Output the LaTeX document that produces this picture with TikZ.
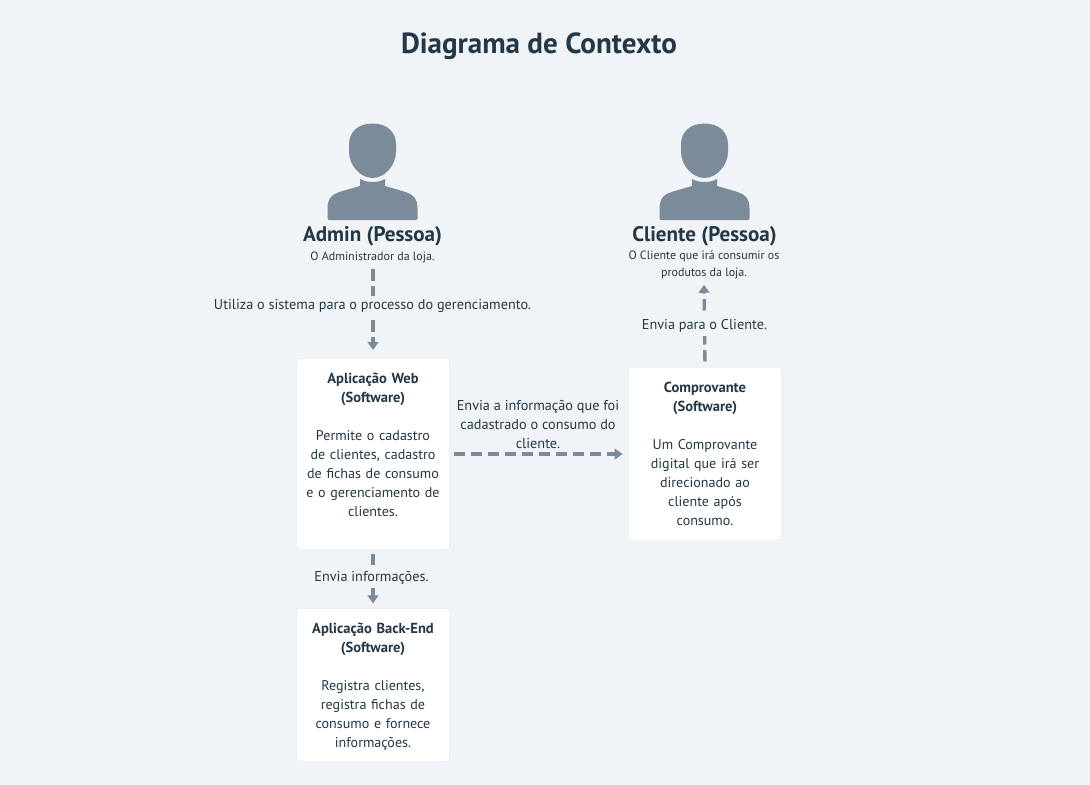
\documentclass[tikz,border=0pt]{standalone}
\usepackage{fontspec}
\setmainfont{PT Sans}
\usetikzlibrary{arrows.meta}
\definecolor{bgc}{HTML}{F0F4F7}
\definecolor{inkc}{HTML}{243746}
\definecolor{iconc}{HTML}{7B8B9A}
\definecolor{edgec}{HTML}{E8ECF0}
\newcommand{\cardhead}[1]{{\fontsize{10.9pt}{14.25pt}\selectfont\bfseries #1}}
\tikzset{
  x=0.75pt,y=-0.75pt,
  card/.style={draw=edgec,line width=0.5pt,fill=white,rounded corners=2.5pt,minimum width=115pt,text width=112pt,align=center,inner sep=0pt,font=\fontsize{10.55pt}{14.25pt}\selectfont,text=inkc},
  titletext/.style={font=\fontsize{21.8pt}{25pt}\selectfont\bfseries,text=inkc},
  persontext/.style={font=\fontsize{15.8pt}{18pt}\selectfont\bfseries,text=inkc},
  desctext/.style={font=\fontsize{9pt}{12.2pt}\selectfont,text=inkc,align=center},
  edgetext/.style={font=\fontsize{10.7pt}{14.25pt}\selectfont,text=inkc,align=center,fill=bgc,inner xsep=1pt,inner ysep=2pt},
  flow/.style={draw=iconc,line width=2.5pt,dash pattern=on 8.5pt off 4.25pt,-{Triangle[length=6pt,width=8pt,sep=0pt]}},
  person/.pic={
    \fill[iconc] (0,-28) .. controls (15,-28) and (23.5,-19) .. (23.5,-7)
      -- (23.5,0) .. controls (23.5,14) and (12,26.5) .. (0,26.5)
      .. controls (-12,26.5) and (-23.5,14) .. (-23.5,0)
      -- (-23.5,-7) .. controls (-23.5,-19) and (-15,-28) .. (0,-28) -- cycle;
    \fill[iconc] (-12.5,27.5) .. controls (-6,31.5) and (6,31.5) .. (12.5,27.5)
      -- (12.5,34.5) -- (28,39) .. controls (39,42) and (45,45) .. (45,57)
      -- (45,67) -- (44,68.5) -- (-44,68.5) -- (-45,67) -- (-45,57)
      .. controls (-45,45) and (-39,42) .. (-28,39)
      -- (-12.5,34.5) -- cycle;
  }
}
\begin{document}
\begin{tikzpicture}
\useasboundingbox[fill=bgc] (0,0) rectangle (1090,785);
\node[titletext] (title) at (539,46) {Diagrama de Contexto};
\pic at (372.5,151.5) {person};
\pic at (704.5,151.5) {person};
\node[persontext] (admin) at (372.5,236) {Admin (Pessoa)};
\node[persontext] (cliente) at (704.5,236) {Cliente (Pessoa)};
\node[desctext] (admindesc) at (372.5,257) {O Administrador da loja.};
\node[desctext] (clientedesc) at (704,265) {O Cliente que irá consumir os\\produtos da loja.};
\node[card,minimum height=143.5pt] (web) at (373,454) {\cardhead{Aplicação Web}\\\cardhead{(Software)}\\[14.25pt]Permite o cadastro\\de clientes, cadastro\\de fichas de consumo\\e o gerenciamento de\\clientes.\\~};
\node[card,minimum height=129.5pt] (comp) at (705,453.5) {\cardhead{Comprovante}\\\cardhead{(Software)}\\[14.25pt]Um Comprovante\\digital que irá ser\\direcionado ao\\cliente após\\consumo.};
\node[card,minimum height=115pt] (back) at (373,685) {\rule{0pt}{10.5pt}\cardhead{Aplicação Back-End}\\\cardhead{(Software)}\\[14.25pt]Registra clientes,\\registra fichas de\\consumo e fornece\\informações.};
\draw[flow,shorten >=6pt,shorten <=1.5pt] (admindesc.south -| web.north) coordinate (s1) -- (web.north);
\draw[flow,shorten <=3pt,shorten >=3.5pt] (web.south) -- (back.north);
\draw[flow,shorten <=3pt,shorten >=4pt] (web.east |- 0,454) coordinate (s2) -- (comp.west |- s2);
\draw[flow,shorten <=4pt,shorten >=1pt] (comp.north) -- (clientedesc.south);
\node[edgetext] (l1) at (372.5,305.5) {Utiliza o sistema para o processo do gerenciamento.};
\node[edgetext,inner ysep=1pt] (l2) at (371.5,577.5) {Envia informações.};
\node[edgetext,fill=none] (l3) at (538,424) {Envia a informação que foi\\cadastrado o consumo do\\cliente.};
\node[edgetext,inner ysep=3pt] (l4) at (704.5,325.5) {Envia para o Cliente.};
\end{tikzpicture}
\end{document}
